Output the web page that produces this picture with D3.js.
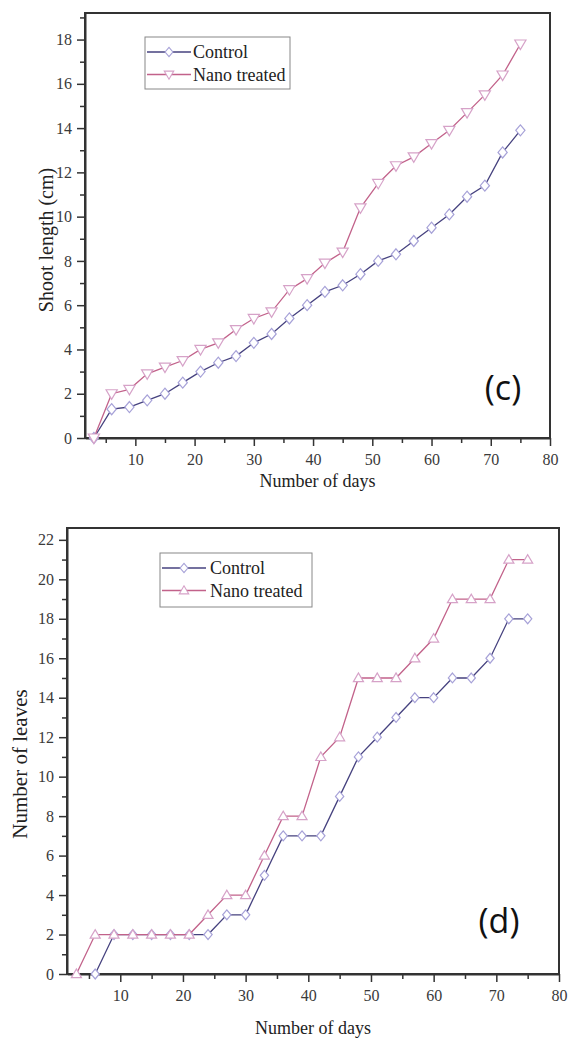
<!DOCTYPE html>
<html>
<head>
<meta charset="utf-8">
<script src="https://d3js.org/d3.v7.min.js"></script>
<title>D3</title>
<style>
  body { margin: 0; background: #fff; }
  svg { display: block; }
  .tick line, .domain { stroke: #333; }
</style>
</head>
<body>
<script>
// sampling days (every 3 days)
var days = [3, 6, 9, 12, 15, 18, 21, 24, 27, 30, 33, 36, 39, 42, 45, 48, 51, 54, 57, 60, 63, 66, 69, 72, 75];

// (c) shoot length, cm
var shootControl = [0, 1.3, 1.4, 1.7, 2.0, 2.5, 3.0, 3.4, 3.7, 4.3, 4.7, 5.4, 6.0, 6.6, 6.9, 7.4, 8.0, 8.3, 8.9, 9.5, 10.1, 10.9, 11.4, 12.9, 13.9];
var shootNano    = [0, 2.0, 2.2, 2.9, 3.2, 3.5, 4.0, 4.3, 4.9, 5.4, 5.7, 6.7, 7.2, 7.9, 8.4, 10.4, 11.5, 12.3, 12.7, 13.3, 13.9, 14.7, 15.5, 16.4, 17.8];

// (d) number of leaves (control has no reading on day 3)
var leavesControl = [null, 0, 2, 2, 2, 2, 2, 2, 3, 3, 5, 7, 7, 7, 9, 11, 12, 13, 14, 14, 15, 15, 16, 18, 18];
var leavesNano    = [0, 2, 2, 2, 2, 2, 2, 3, 4, 4, 6, 8, 8, 11, 12, 15, 15, 15, 16, 17, 19, 19, 19, 21, 21];

var xTicks = [10, 20, 30, 40, 50, 60, 70, 80];
var xMinor = [5, 15, 25, 35, 45, 55, 65, 75];
var seriesNames = ["Control", "Nano treated"];

var serif = "'Liberation Serif', 'Times New Roman', serif";

var svg = d3.select("body").append("svg")
    .attr("width", 568)
    .attr("height", 1040);

var ctrlLine = "#46427f", ctrlMark = "#a7a2d8";
var nanoLine = "#c2628a", nanoMark = "#d6a2c8";

function marker(sym, k) {
  k = k || 1;
  var p;
  if (sym === "diamond") p = [[0, -5.5], [4.6, 0], [0, 5.5], [-4.6, 0]];
  else if (sym === "tri-down") p = [[-5.6, -4], [5.6, -4], [0, 5.5]];
  else p = [[-5.6, 4], [5.6, 4], [0, -5.5]];
  return "M" + p.map(function(q) { return (q[0] * k) + "," + (q[1] * k); }).join("L") + "Z";
}

function panel(cfg) {
  var x = d3.scaleLinear().domain([1.5, 80]).range([cfg.left, cfg.right]);
  var y = d3.scaleLinear().domain([0, cfg.yMax]).range([cfg.bottom, cfg.top]);
  var g = svg.append("g");

  // frame
  g.append("rect")
    .attr("x", cfg.left).attr("y", cfg.top)
    .attr("width", cfg.right - cfg.left).attr("height", cfg.bottom - cfg.top)
    .attr("fill", "none").attr("stroke", "#333").attr("stroke-width", 2);

  // minor ticks
  g.append("g").attr("transform", "translate(0," + cfg.bottom + ")")
    .call(d3.axisBottom(x).tickValues(xMinor).tickSize(5).tickFormat(""))
    .call(function(s) { s.select(".domain").remove(); s.selectAll("line").attr("stroke-width", 1.5); });
  g.append("g").attr("transform", "translate(" + cfg.left + ",0)")
    .call(d3.axisLeft(y).tickValues(d3.range(1, cfg.yMax, 2)).tickSize(5).tickFormat(""))
    .call(function(s) { s.select(".domain").remove(); s.selectAll("line").attr("stroke-width", 1.5); });

  // major axes
  var xa = g.append("g").attr("transform", "translate(0," + cfg.bottom + ")")
    .call(d3.axisBottom(x).tickValues(xTicks).tickSize(8).tickSizeOuter(0).tickPadding(8));
  var ya = g.append("g").attr("transform", "translate(" + cfg.left + ",0)")
    .call(d3.axisLeft(y).tickValues(cfg.yTicks).tickSize(8).tickSizeOuter(0).tickPadding(5));
  [xa, ya].forEach(function(a) {
    a.select(".domain").attr("stroke-width", 2);
    a.selectAll(".tick line").attr("stroke-width", 1.5);
    a.selectAll(".tick text")
      .style("font-family", serif)
      .style("font-size", "16px")
      .attr("fill", "#3a3a3a");
  });

  var line = d3.line()
    .defined(function(d) { return d[1] != null; })
    .x(function(d) { return x(d[0]); })
    .y(function(d) { return y(d[1]); });

  var sets = [
    { vals: cfg.control, line: ctrlLine, mark: ctrlMark, sym: "diamond" },
    { vals: cfg.nano, line: nanoLine, mark: nanoMark, sym: cfg.nanoSym }
  ];

  sets.forEach(function(s) {
    var pts = days.map(function(d, i) { return [d, s.vals[i]]; });
    g.append("path")
      .attr("d", line(pts))
      .attr("fill", "none")
      .attr("stroke", s.line)
      .attr("stroke-width", 1.3);
    g.selectAll(null)
      .data(pts.filter(function(p) { return p[1] != null; }))
      .enter().append("path")
      .attr("d", marker(s.sym, cfg.mk))
      .attr("transform", function(p) { return "translate(" + x(p[0]) + "," + y(p[1]) + ")"; })
      .attr("fill", "#fff")
      .attr("stroke", s.mark)
      .attr("stroke-width", 1.2);
  });

  // legend
  var lg = g.append("g");
  lg.append("rect")
    .attr("x", cfg.legX).attr("y", cfg.legY)
    .attr("width", cfg.legW).attr("height", cfg.legH)
    .attr("fill", "#fff").attr("stroke", "#888").attr("stroke-width", 1);
  [[ctrlLine, ctrlMark, "diamond"], [nanoLine, nanoMark, cfg.nanoSym]].forEach(function(c, i) {
    var base = cfg.legY + 21 + i * 22.5;
    var yy = base - 6;
    lg.append("line")
      .attr("x1", cfg.legX + 2).attr("x2", cfg.legX + 46)
      .attr("y1", yy).attr("y2", yy)
      .attr("stroke", c[0]).attr("stroke-width", 1.3);
    lg.append("path")
      .attr("d", marker(c[2], 0.85))
      .attr("transform", "translate(" + (cfg.legX + 24) + "," + yy + ")")
      .attr("fill", "#fff").attr("stroke", c[1]).attr("stroke-width", 1.1);
    lg.append("text")
      .attr("x", cfg.legX + cfg.legTx).attr("y", base)
      .style("font-family", serif)
      .style("font-size", "18px")
      .attr("fill", "#222")
      .text(seriesNames[i]);
  });

  // axis titles
  svg.append("text")
    .attr("x", (cfg.left + cfg.right) / 2).attr("y", cfg.xLabY)
    .attr("text-anchor", "middle")
    .style("font-family", serif)
    .style("font-size", "18px").attr("fill", "#222")
    .text("Number of days");
  svg.append("text")
    .attr("transform", "translate(" + cfg.yLabX + "," + cfg.yLabY + ") rotate(-90)")
    .attr("text-anchor", "middle")
    .style("font-family", serif)
    .style("font-size", cfg.yLabSize + "px").attr("fill", "#222")
    .text(cfg.yLabel);

  // panel tag
  svg.append("text")
    .attr("x", cfg.tagX).attr("y", cfg.tagY)
    .attr("text-anchor", "middle")
    .style("font-family", "'Open Sans', 'Noto Sans', sans-serif")
    .style("font-size", "34px").attr("fill", "#111")
    .text(cfg.tag);
}

panel({
  left: 85, right: 550, top: 13, bottom: 438, yMax: 19.2,
  yTicks: [0, 2, 4, 6, 8, 10, 12, 14, 16, 18],
  control: shootControl, nano: shootNano, nanoSym: "tri-down", mk: 1,
  legX: 145, legY: 37, legW: 145, legH: 52, legTx: 48,
  xLabY: 487, yLabX: 53, yLabY: 240, yLabSize: 20, yLabel: "Shoot length (cm)",
  tag: "(c)", tagX: 503, tagY: 400
});

panel({
  left: 67, right: 559, top: 528, bottom: 974, yMax: 22.6,
  yTicks: [0, 2, 4, 6, 8, 10, 12, 14, 16, 18, 20, 22],
  control: leavesControl, nano: leavesNano, nanoSym: "tri-up", mk: 0.9,
  legX: 160, legY: 553, legW: 152, legH: 54, legTx: 50,
  xLabY: 1034, yLabX: 27, yLabY: 764, yLabSize: 21, yLabel: "Number of leaves",
  tag: "(d)", tagX: 499, tagY: 933
});
</script>
</body>
</html>
